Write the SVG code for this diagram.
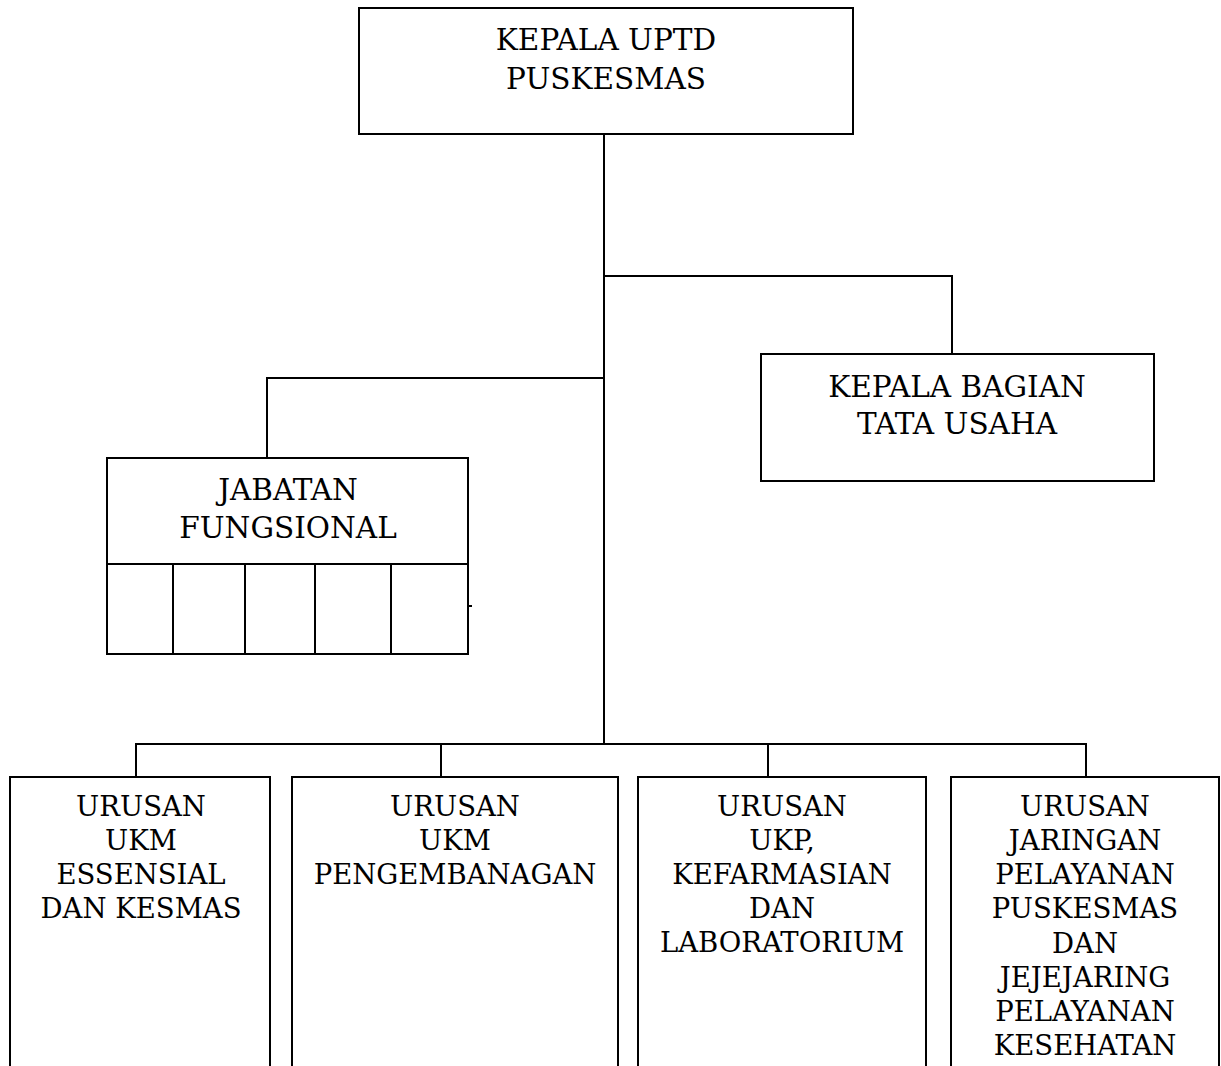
<svg xmlns="http://www.w3.org/2000/svg" width="1221" height="1066" viewBox="0 0 1221 1066">
<style>
.box{fill:#fff;stroke:#000;stroke-width:2}
.ln{fill:none;stroke:#000;stroke-width:2}
.t1{font-family:"DejaVu Serif","Liberation Serif",serif;font-size:29.5px;fill:#000;text-anchor:middle}
.t2{font-family:"DejaVu Serif","Liberation Serif",serif;font-size:27.5px;fill:#000;text-anchor:middle}
</style>
<rect width="1221" height="1066" fill="#fff"/>
<g id="connectors">
<path class="ln" d="M604 134V744"/>
<path class="ln" d="M604 276H952V354"/>
<path class="ln" d="M604 378H267V458"/>
<path class="ln" d="M136 777V744H1086V777"/>
<path class="ln" d="M441 744V777"/>
<path class="ln" d="M768 744V777"/>
<path class="ln" d="M468 606H472"/>
</g>
<g id="kepala-uptd">
<rect class="box" x="359" y="8" width="494" height="126"/>
<text class="t1" x="606" y="50">KEPALA UPTD</text>
<text class="t1" x="606" y="89">PUSKESMAS</text>
</g>
<g id="kepala-bagian-tu">
<rect class="box" x="761" y="354" width="393" height="127"/>
<text class="t1" x="957" y="397">KEPALA BAGIAN</text>
<text class="t1" x="957" y="434">TATA USAHA</text>
</g>
<g id="jabatan-fungsional">
<rect class="box" x="107" y="458" width="361" height="196"/>
<path class="ln" d="M107 564H468M173 564V654M245 564V654M315 564V654M391 564V654"/>
<text class="t1" x="288" y="500">JABATAN</text>
<text class="t1" x="288" y="538">FUNGSIONAL</text>
</g>
<g id="urusan-ukm-essensial">
<rect class="box" x="10" y="777" width="260" height="330"/>
<text class="t2" x="141" y="816">URUSAN</text>
<text class="t2" x="141" y="850">UKM</text>
<text class="t2" x="141" y="884">ESSENSIAL</text>
<text class="t2" x="141" y="918">DAN KESMAS</text>
</g>
<g id="urusan-ukm-pengembangan">
<rect class="box" x="292" y="777" width="326" height="330"/>
<text class="t2" x="455" y="816">URUSAN</text>
<text class="t2" x="455" y="850">UKM</text>
<text class="t2" x="455" y="884">PENGEMBANAGAN</text>
</g>
<g id="urusan-ukp">
<rect class="box" x="638" y="777" width="288" height="330"/>
<text class="t2" x="782" y="816">URUSAN</text>
<text class="t2" x="782" y="850">UKP,</text>
<text class="t2" x="782" y="884">KEFARMASIAN</text>
<text class="t2" x="782" y="918">DAN</text>
<text class="t2" x="782" y="952">LABORATORIUM</text>
</g>
<g id="urusan-jaringan">
<rect class="box" x="951" y="777" width="268" height="330"/>
<text class="t2" x="1085" y="816">URUSAN</text>
<text class="t2" x="1085" y="850">JARINGAN</text>
<text class="t2" x="1085" y="884">PELAYANAN</text>
<text class="t2" x="1085" y="918">PUSKESMAS</text>
<text class="t2" x="1085" y="953">DAN</text>
<text class="t2" x="1085" y="987">JEJEJARING</text>
<text class="t2" x="1085" y="1021">PELAYANAN</text>
<text class="t2" x="1085" y="1055">KESEHATAN</text>
</g>
</svg>
